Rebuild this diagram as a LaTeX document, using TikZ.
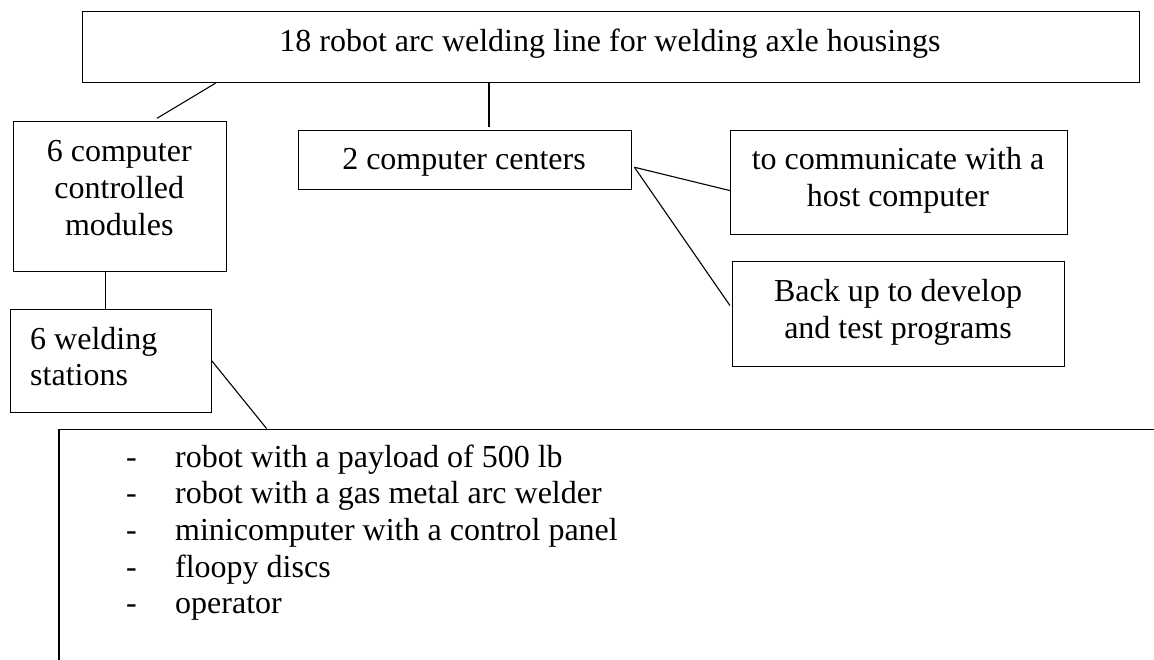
\documentclass[tikz,border=0pt]{standalone}
\usepackage{fontspec}
\setmainfont{Liberation Serif}
\usetikzlibrary{calc}
\tikzset{
  box/.style={draw=black, line width=1.2pt, inner sep=0pt, anchor=north west},
  txt/.style={inner sep=0pt, anchor=base, font=\fontsize{32}{36.7}\selectfont},
  conn/.style={draw=black, line width=1.1pt}
}
\begin{document}
\begin{tikzpicture}[x=1pt,y=-1pt]
\useasboundingbox (0,0) rectangle (1154,660);
% boxes
\node[box, minimum width=1057.3pt, minimum height=71.3pt] (top) at (81.5,10.7) {};
\node[box, minimum width=212.5pt, minimum height=149.7pt] (mod) at (13,121.3) {};
\node[box, minimum width=332.8pt, minimum height=58.7pt] (cen) at (297.7,130) {};
\node[box, minimum width=336.8pt, minimum height=104.3pt] (comm) at (730,130) {};
\node[box, minimum width=331.8pt, minimum height=105pt] (back) at (732,261) {};
\node[box, minimum width=200.7pt, minimum height=102.7pt] (weld) at (10,309) {};
\node[box, minimum width=1150pt, minimum height=260pt] (lb) at (58.3,428.7) {};
% texts
\node[txt] (topt) at (610,52) {18 robot arc welding line for welding axle housings};
\node[txt] (modt) at (119.3,162) {\begin{tabular}[t]{@{}c@{}}6 computer\\controlled\\modules\end{tabular}};
\node[txt] (cent) at (464,170) {2 computer centers};
\node[txt] (commt) at (898,170) {\begin{tabular}[t]{@{}c@{}}to communicate with a\\host computer\end{tabular}};
\node[txt] (backt) at (898,301.7) {\begin{tabular}[t]{@{}c@{}}Back up to develop\\and test programs\end{tabular}};
\node[txt, anchor=base west] (weldt) at (30,349) {\begin{tabular}[t]{@{}l@{}}6 welding\\stations\end{tabular}};
\node[txt, anchor=base west] (list) at (126,467) {\begin{tabular}[t]{@{}p{49pt}@{}l@{}}
-&robot with a payload of 500 lb\\
-&robot with a gas metal arc welder\\
-&minicomputer with a control panel\\
-&floopy discs\\
-&operator
\end{tabular}};
% connectors
\draw[conn] ([xshift=134pt]top.south west) -- ([xshift=144pt,yshift=3pt]mod.north west);
\draw[conn] ([xshift=407.5pt]top.south west) -- ([xshift=191.3pt,yshift=3pt]cen.north west);
\draw[conn] ([xshift=92.2pt]mod.south west) -- ([xshift=95.2pt]weld.north west);
\draw[conn] ([xshift=2.7pt,yshift=-7.3pt]cen.east) -- ([yshift=-7.85pt]comm.west);
\draw[conn] ([xshift=2.7pt,yshift=-7.3pt]cen.east) -- ([xshift=-2pt,yshift=8.5pt]back.west);
\draw[conn] (weld.east) -- ([xshift=208.4pt]lb.north west);
\end{tikzpicture}
\end{document}
